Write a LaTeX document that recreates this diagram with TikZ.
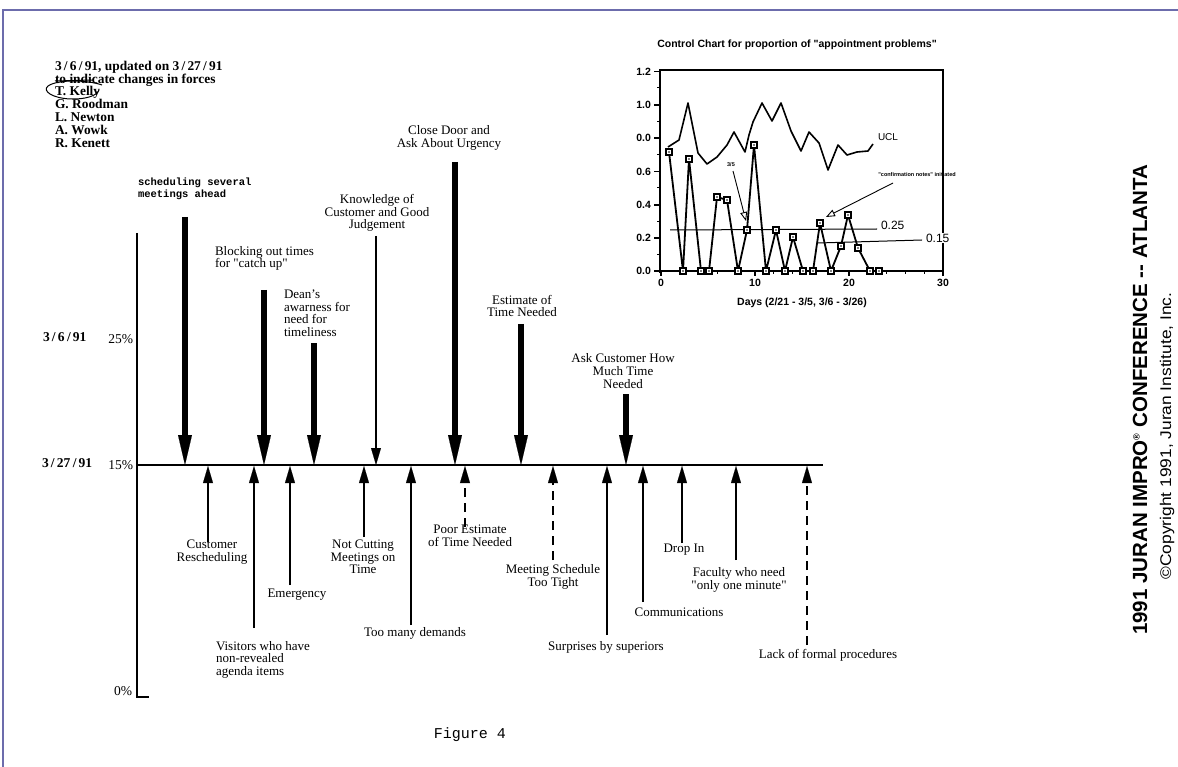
\documentclass[tikz,border=0pt]{standalone}
\usepackage{fontspec}
\setmainfont{Liberation Serif}
\setsansfont{Liberation Sans}
\setmonofont{Liberation Mono}
\usetikzlibrary{arrows.meta,calc}
\definecolor{framecol}{RGB}{108,108,172}
\newcommand{\dq}{\textquotedbl}

\begin{document}
\begin{tikzpicture}[x=1pt,y=-1pt,
  every node/.style={inner sep=0pt, outer sep=0pt},
  lbl/.style={font=\fontsize{13}{12.6}\selectfont, align=center},
  lbll/.style={font=\fontsize{13}{12.6}\selectfont, align=left, anchor=north west},
  axislbl/.style={font=\fontsize{13.5}{13.5}\selectfont},
  datelbl/.style={font=\bfseries\fontsize{13.5}{13.5}\selectfont},
  drive/.style={line width=6.5pt, -{Triangle[width=14pt,length=30pt,line width=0.1pt]}},
  drivethin/.style={line width=2.2pt, -{Triangle[width=10pt,length=17pt,line width=0.1pt]}},
  resist/.style={line width=2pt, -{Triangle[width=10pt,length=17pt,line width=0.1pt]}},
  resistdash/.style={resist, line width=2.6pt, dash pattern=on 9pt off 6pt},
  chartfont/.style={font=\sffamily\bfseries\fontsize{10.5}{11}\selectfont},
  tinyfont/.style={font=\sffamily\bfseries\fontsize{5.5}{6}\selectfont},
  marker/.style={draw, fill=white, line width=1.1pt, minimum size=6pt, inner sep=0pt},
  note/.style={line width=0.9pt, -{Triangle[open,width=7pt,length=9pt]}}
]
\useasboundingbox (0,0) rectangle (1178,767);
\fill[white] (0,0) rectangle (1178,767);

% page frame
\draw[framecol, line width=1.6pt] (3,767) -- (3,10) -- (1178,10);

% header block
\node[font=\bfseries\fontsize{13.4}{12.8}\selectfont, align=left, anchor=north west] (hdr) at (55,61)
  {3\,/\,6\,/\,91, updated on 3\,/\,27\,/\,91\\
   to indicate changes in forces\\
   T. Kelly\\
   G. Roodman\\
   L. Newton\\
   A. Wowk\\
   R. Kenett};
\draw[line width=1pt] (55,81) -- (93,80);
\draw[line width=1pt] (102,85) .. controls (88,80) and (58,79) .. (48,86)
  .. controls (42,91) and (52,98) .. (70,99) .. controls (85,99.5) and (97,96) .. (99,90);

% scale axis and equilibrium line
\coordinate (axtop) at (137,233);
\coordinate (axbot) at (137,697);
\coordinate (axtick) at (149,697);
\coordinate (base0) at (137,465);
\coordinate (base1) at (823,465);
\draw[line width=1.8pt] (axtop) -- (axbot) -- (axtick);
\draw[line width=1.8pt] (base0) -- (base1);

\node[datelbl, anchor=west] (d1) at (43,337) {3\,/\,6\,/\,91};
\node[axislbl, anchor=east] (p25) at (133,339) {25\%};
\node[datelbl, anchor=west] (d2) at (42,463) {3\,/\,27\,/\,91};
\node[axislbl, anchor=east] (p15) at (133,465) {15\%};
\node[axislbl, anchor=east] (p0) at (132,691) {0\%};

% driving forces (from above)
\node[font=\ttfamily\bfseries\fontsize{10.5}{12}\selectfont, align=left, anchor=north west] (f1) at (138,178)
  {scheduling several\\meetings ahead};
\coordinate (f1s) at (185,217); \coordinate (f1t) at (185,465);
\draw[drive] (f1s) -- (f1t);

\node[lbll] (f2) at (215,246) {Blocking out times\\for \dq catch up\dq};
\coordinate (f2s) at (264,290); \coordinate (f2t) at (264,465);
\draw[drive] (f2s) -- (f2t);

\node[lbll] (f3) at (284,290) {Dean's\\awarness for\\need for\\timeliness};
\coordinate (f3s) at (314,343); \coordinate (f3t) at (314,465);
\draw[drive] (f3s) -- (f3t);

\node[lbl] (f4) at (377,213) {Knowledge of\\Customer and Good\\Judgement};
\coordinate (f4s) at (376,236); \coordinate (f4t) at (376,465);
\draw[drivethin] (f4s) -- (f4t);

\node[lbl] (f5) at (449,138) {Close Door and\\Ask About Urgency};
\coordinate (f5s) at (455,162); \coordinate (f5t) at (455,465);
\draw[drive] (f5s) -- (f5t);

\node[lbl] (f6) at (522,306) {Estimate of\\Time Needed};
\coordinate (f6s) at (521,324); \coordinate (f6t) at (521,465);
\draw[drive] (f6s) -- (f6t);

\node[lbl] (f7) at (623,371) {Ask Customer How\\Much Time\\Needed};
\coordinate (f7s) at (626,394); \coordinate (f7t) at (626,465);
\draw[drive] (f7s) -- (f7t);

% restraining forces (from below)
\node[lbl] (r1) at (212,552) {Customer\\Rescheduling};
\coordinate (r1s) at (208,542); \coordinate (r1t) at (208,466);
\draw[resist] (r1s) -- (r1t);

\node[lbll] (r2) at (216,641) {Visitors who have\\non-revealed\\agenda items};
\coordinate (r2s) at (254,628); \coordinate (r2t) at (254,466);
\draw[resist] (r2s) -- (r2t);

\node[lbl] (r3) at (297,595) {Emergency};
\coordinate (r3s) at (290,585); \coordinate (r3t) at (290,466);
\draw[resist] (r3s) -- (r3t);

\node[lbl] (r4) at (363,557) {Not Cutting\\Meetings on\\Time};
\coordinate (r4s) at (364,537); \coordinate (r4t) at (364,466);
\draw[resist] (r4s) -- (r4t);

\node[lbl] (r5) at (415,633) {Too many demands};
\coordinate (r5s) at (411,625); \coordinate (r5t) at (411,466);
\draw[resist] (r5s) -- (r5t);

\node[lbl] (r6) at (470,536) {Poor Estimate\\of Time Needed};
\coordinate (r6s) at (465,527); \coordinate (r6t) at (465,466);
\draw[resistdash] (r6s) -- (r6t);

\node[lbl] (r7) at (553,577) {Meeting Schedule\\Too Tight};
\coordinate (r7s) at (553,560); \coordinate (r7t) at (553,466);
\draw[resistdash] (r7s) -- (r7t);

\node[lbl] (r8) at (606,647) {Surprises by superiors};
\coordinate (r8s) at (607,635); \coordinate (r8t) at (607,466);
\draw[resist] (r8s) -- (r8t);

\node[lbl] (r9) at (679,612) {Communications};
\coordinate (r9s) at (643,602); \coordinate (r9t) at (643,466);
\draw[resist] (r9s) -- (r9t);

\node[lbl] (r10) at (684,550) {Drop In};
\coordinate (r10s) at (682,543); \coordinate (r10t) at (682,466);
\draw[resist] (r10s) -- (r10t);

\node[lbl] (r11) at (739,580) {Faculty who need\\\dq only one minute\dq};
\coordinate (r11s) at (736,560); \coordinate (r11t) at (736,466);
\draw[resist] (r11s) -- (r11t);

\node[lbl] (r12) at (828,655) {Lack of formal procedures};
\coordinate (r12s) at (807,645); \coordinate (r12t) at (807,466);
\draw[resistdash] (r12s) -- (r12t);

% control chart
\node[chartfont] (ctitle) at (797,45) {Control Chart for proportion of \dq appointment problems\dq};
\draw[line width=1.5pt] (660,273) -- (660,70) -- (943,70) -- (943,273);
\draw[line width=1.5pt] (656,271) -- (943,271);
\foreach \yy/\t [count=\i] in {271/0.0,238/0.2,205/0.4,171.5/0.6,138/0.0,105/1.0,71.5/1.2}{
  \draw[line width=1.2pt] (654,\yy) -- (660,\yy);
  \node[chartfont, anchor=east] (yl\i) at (651,\yy) {\t};
}
\foreach \yy in {254.5,221.5,188,155,121.5,88}
  \draw[line width=1pt] (657,\yy) -- (660,\yy);
\foreach \d in {0,2,...,30}
  \draw[line width=1pt] ({661+9.4*\d},271) -- ({661+9.4*\d},274);
\foreach \d in {0,10,20,30}{
  \draw[line width=1.2pt] ({661+9.4*\d},271) -- ({661+9.4*\d},276);
  \node[chartfont, anchor=north] (xl\d) at ({661+9.4*\d},279) {\d};
}
\node[chartfont] (xtitle) at (802,303) {Days (2/21 - 3/5, 3/6 - 3/26)};

% upper control limit
\draw[line width=1.6pt, line join=round] (668,147) -- (679,140) -- (688,103) -- (698,153)
  -- (707,164) -- (717,157) -- (727,145) -- (734,132) -- (745,152) -- (749,135)
  -- (753,122) -- (762,103) -- (772,121) -- (781,103) -- (791,131) -- (801,151)
  -- (809,132) -- (819,143) -- (828,170) -- (838,145) -- (847,155) -- (857,152)
  -- (868,151) -- (873,144);
\node[font=\sffamily\fontsize{10}{10}\selectfont, anchor=west] (ucl) at (878,137) {UCL};

% centre lines
\draw[line width=1pt] (670,230) -- (877,229);
\node[font=\sffamily\fontsize{12}{12}\selectfont, anchor=west] (c25) at (881,225) {0.25};
\draw[line width=1pt] (818,243) -- (922,240);
\node[font=\sffamily\fontsize{12}{12}\selectfont, anchor=west, fill=white, inner sep=1pt] (c15) at (925,238) {0.15};

% daily proportions
\draw[line width=1.8pt, line join=round] (669,152) -- (683,271) -- (689,159) -- (701,271)
  -- (709,271) -- (717,197) -- (727,200) -- (738,271) -- (747,230) -- (754,145)
  -- (766,271) -- (776,230) -- (785,271) -- (793,237) -- (803,271) -- (813,271)
  -- (820,223) -- (831,271) -- (841,246) -- (848,215) -- (858,248) -- (870,271)
  -- (879,271);
\foreach \p [count=\i] in {(669,152),(683,271),(689,159),(701,271),(709,271),(717,197),
  (727,200),(738,271),(747,230),(754,145),(766,271),(776,230),(785,271),(793,237),
  (803,271),(813,271),(820,223),(831,271),(841,246),(848,215),(858,248),(870,271),(879,271)}{
  \node[marker] (m\i) at \p {};
  \fill (m\i.center) circle (0.9pt);
}

% annotations
\node[tinyfont] (n35) at (731,165) {3/5};
\coordinate (n35s) at (733,171);
\coordinate (n35t) at (746,221);
\draw[note] (n35s) -- (n35t);
\node[tinyfont] (nconf) at (917,175) {\dq confirmation notes\dq{} initiated};
\coordinate (nconfs) at (893,183);
\coordinate (nconft) at (826,217);
\draw[note] (nconfs) -- (nconft);

% side imprint
\node[font=\sffamily\bfseries\fontsize{20.5}{21}\selectfont, rotate=90] (conf) at (1140,400)
  {1991 JURAN IMPRO\textsuperscript{\fontsize{9}{9}\selectfont ®} CONFERENCE -{}- ATLANTA};
\node[font=\sffamily\fontsize{15.5}{16}\selectfont, rotate=90] (copy) at (1167,436)
  {\scalebox{1.12}[1]{©Copyright 1991, Juran Institute, Inc.}};

% caption
\node[font=\ttfamily\fontsize{15}{15}\selectfont] (fig) at (470,735) {Figure 4};
\end{tikzpicture}
\end{document}
